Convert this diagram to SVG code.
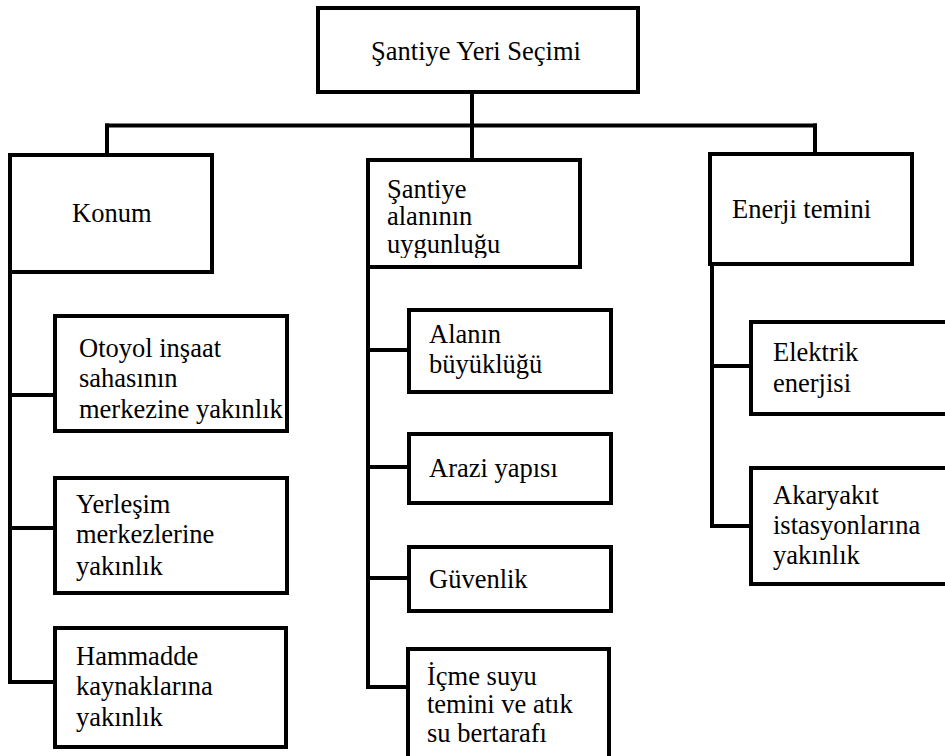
<svg xmlns="http://www.w3.org/2000/svg" width="945" height="756" viewBox="0 0 945 756">
<style>
  .box { fill: #ffffff; stroke: #000000; stroke-width: 4; }
  .ln { fill: none; stroke: #000000; stroke-width: 4; stroke-linecap: square; }
  .t { font-family: 'Liberation Serif', 'DejaVu Serif', 'Times New Roman', serif; font-size: 26.5px; fill: #000000; }
</style>
<defs>
  <clipPath id="clipMid"><rect x="370" y="162" width="208" height="96"/></clipPath>
</defs>
<rect x="0" y="0" width="945" height="756" fill="#ffffff"/>
<g id="connectors">
  <path class="ln" d="M472 94 V158"/>
  <path class="ln" d="M107 125.5 H815"/>
  <path class="ln" d="M107 125.5 V153"/>
  <path class="ln" d="M815 125.5 V152"/>
  <path class="ln" d="M10 272 V682 H53"/>
  <path class="ln" d="M10 395 H53"/>
  <path class="ln" d="M10 528 H53"/>
  <path class="ln" d="M368 267 V687 H406"/>
  <path class="ln" d="M368 350 H407"/>
  <path class="ln" d="M368 467 H407"/>
  <path class="ln" d="M368 578 H407"/>
  <path class="ln" d="M712 264 V526 H749"/>
  <path class="ln" d="M712 366 H749"/>
</g>
<g class="t" font-family="Liberation Serif, DejaVu Serif, serif">
<g id="root">
  <rect class="box" x="318" y="8" width="320" height="84"/>
  <text x="476" y="60" text-anchor="middle">Şantiye Yeri Seçimi</text>
</g>
<g id="konum">
  <rect class="box" x="10" y="155" width="202" height="117"/>
  <text x="72" y="222">Konum</text>
</g>
<g id="santiye-alani">
  <rect class="box" x="368" y="160" width="212" height="107"/>
  <g clip-path="url(#clipMid)">
    <text x="387" y="198">Şantiye</text>
    <text x="387" y="225">alanının</text>
    <text x="387" y="253">uygunluğu</text>
  </g>
</g>
<g id="enerji">
  <rect class="box" x="710" y="154" width="202" height="110"/>
  <text x="732" y="218">Enerji temini</text>
</g>
<g id="otoyol">
  <rect class="box" x="55" y="316" width="232" height="115"/>
  <text x="79" y="357">Otoyol inşaat</text>
  <text x="79" y="387">sahasının</text>
  <text x="79" y="418">merkezine yakınlık</text>
</g>
<g id="yerlesim">
  <rect class="box" x="55" y="478" width="232" height="115"/>
  <text x="76" y="513">Yerleşim</text>
  <text x="76" y="543">merkezlerine</text>
  <text x="76" y="575">yakınlık</text>
</g>
<g id="hammadde">
  <rect class="box" x="55" y="628" width="231" height="119"/>
  <text x="76" y="665">Hammadde</text>
  <text x="76" y="695">kaynaklarına</text>
  <text x="76" y="726">yakınlık</text>
</g>
<g id="alan">
  <rect class="box" x="409" y="310" width="202" height="82"/>
  <text x="429" y="343">Alanın</text>
  <text x="429" y="373">büyüklüğü</text>
</g>
<g id="arazi">
  <rect class="box" x="409" y="434" width="202" height="69"/>
  <text x="429" y="477">Arazi yapısı</text>
</g>
<g id="guvenlik">
  <rect class="box" x="409" y="547" width="202" height="64"/>
  <text x="429" y="588">Güvenlik</text>
</g>
<g id="icme">
  <rect class="box" x="408" y="649" width="201" height="120"/>
  <text x="427" y="685">İçme suyu</text>
  <text x="427" y="713">temini ve atık</text>
  <text x="427" y="742">su bertarafı</text>
</g>
<g id="elektrik">
  <rect class="box" x="751" y="322" width="220" height="92"/>
  <text x="773" y="361">Elektrik</text>
  <text x="773" y="392">enerjisi</text>
</g>
<g id="akaryakit">
  <rect class="box" x="751" y="468" width="220" height="116"/>
  <text x="773" y="504">Akaryakıt</text>
  <text x="773" y="534">istasyonlarına</text>
  <text x="773" y="564">yakınlık</text>
</g>
</g>
</svg>
